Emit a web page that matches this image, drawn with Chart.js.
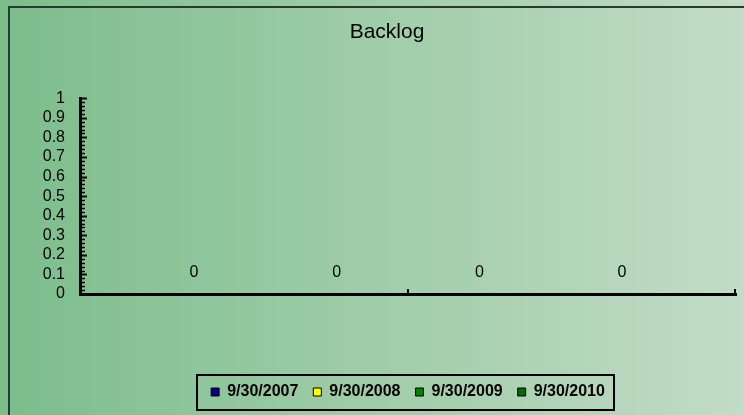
<!DOCTYPE html>
<html>
<head>
<meta charset="utf-8">
<title>Backlog</title>
<script src="https://cdn.jsdelivr.net/npm/chart.js@4/dist/chart.umd.min.js"></script>
<style>
  html, body { margin: 0; padding: 0; overflow: hidden; background: #9fcca8; }
  #wrap { width: 744px; height: 415px; position: relative; }
  canvas { display: block; }
</style>
</head>
<body>
<div id="wrap"><canvas id="chart" width="744" height="415"></canvas></div>
<script>
// Chart data
const categories = [''];
const seriesNames = ['9/30/2007', '9/30/2008', '9/30/2009', '9/30/2010'];
const series2007 = [0];
const series2008 = [0];
const series2009 = [0];
const series2010 = [0];
const seriesColors = ['#000080', '#ffff00', '#008000', '#006c00'];
const yMin = 0, yMax = 1, yMajorStep = 0.1, yMinorStep = 0.02;

const seriesValues = [series2007, series2008, series2009, series2010];

Chart.defaults.font.family = "'Liberation Sans', Arial, sans-serif";
Chart.defaults.color = '#000';

// Green gradient backdrop and the outer frame lines
const backdrop = {
  id: 'backdrop',
  beforeDraw(chart) {
    const { ctx, width, height } = chart;
    ctx.save();
    const g = ctx.createLinearGradient(0, 0, width, 0);
    g.addColorStop(0, 'rgb(124,189,139)');
    g.addColorStop(1, 'rgb(194,220,198)');
    ctx.fillStyle = g;
    ctx.fillRect(0, 0, width, height);
    ctx.strokeStyle = '#2b3a2e';
    ctx.lineWidth = 2;
    ctx.beginPath();
    ctx.moveTo(9, height);
    ctx.lineTo(9, 7);
    ctx.lineTo(width, 7);
    ctx.stroke();
    ctx.restore();
  }
};

// Inside tick marks on both axes (major + minor on the value axis)
const innerTicks = {
  id: 'innerTicks',
  afterDraw(chart) {
    const { ctx, chartArea } = chart;
    const ys = chart.scales.y, xs = chart.scales.x;
    ctx.save();
    ctx.strokeStyle = '#000';
    const n = Math.round((yMax - yMin) / yMinorStep);
    const majorEvery = Math.round(yMajorStep / yMinorStep);
    for (let i = 0; i <= n; i++) {
      const v = yMin + i * yMinorStep;
      const py = Math.round(ys.getPixelForValue(v)) + 0.5;
      const major = i % majorEvery === 0;
      ctx.lineWidth = major ? 2 : 1.5;
      ctx.beginPath();
      ctx.moveTo(chartArea.left, py);
      ctx.lineTo(chartArea.left + (major ? 7 : 5), py);
      ctx.stroke();
    }
    // category-axis tick marks at the category centre and the far end
    ctx.lineWidth = 2;
    const xt = [xs.getPixelForValue(0), chartArea.right - 1];
    xt.forEach(px => {
      ctx.beginPath();
      ctx.moveTo(px, chartArea.bottom);
      ctx.lineTo(px, chartArea.bottom - 5);
      ctx.stroke();
    });
    ctx.restore();
  }
};

// Value labels above each bar
const valueLabels = {
  id: 'valueLabels',
  afterDatasetsDraw(chart) {
    const { ctx } = chart;
    ctx.save();
    ctx.font = "16px 'Liberation Sans', Arial, sans-serif";
    ctx.fillStyle = '#000';
    ctx.textAlign = 'center';
    ctx.textBaseline = 'middle';
    chart.data.datasets.forEach((ds, i) => {
      const meta = chart.getDatasetMeta(i);
      meta.data.forEach((el, j) => {
        ctx.fillText(String(ds.data[j]), el.x, el.y - 21);
      });
    });
    ctx.restore();
  }
};

// Box around the legend items
const legendFrame = {
  id: 'legendFrame',
  afterDraw(chart) {
    const hb = chart.legend && chart.legend.legendHitBoxes;
    if (!hb || !hb.length) return;
    const { ctx } = chart;
    const l = Math.min(...hb.map(h => h.left)) - 14;
    const r = Math.max(...hb.map(h => h.left + h.width)) + 9;
    const t = Math.min(...hb.map(h => h.top)) - 9;
    const b = Math.max(...hb.map(h => h.top + h.height)) + 10;
    ctx.save();
    ctx.strokeStyle = '#000';
    ctx.lineWidth = 2;
    ctx.strokeRect(Math.round(l), Math.round(t), Math.round(r - l), Math.round(b - t));
    ctx.restore();
  }
};

new Chart(document.getElementById('chart'), {
  type: 'bar',
  data: {
    labels: categories,
    datasets: seriesNames.map((name, i) => ({
      label: name,
      data: seriesValues[i],
      backgroundColor: seriesColors[i],
      borderColor: '#000',
      borderWidth: 1,
      categoryPercentage: 0.87,
      barPercentage: 0.9
    }))
  },
  options: {
    responsive: false,
    animation: false,
    devicePixelRatio: 1,
    layout: { padding: { left: 38, right: 8, top: 0, bottom: 5 } },
    plugins: {
      title: {
        display: true,
        text: 'Backlog',
        color: '#000',
        font: { size: 21, weight: 'normal' },
        padding: { top: 20, bottom: 53 }
      },
      legend: {
        position: 'bottom',
        fullSize: false,
        labels: {
          boxWidth: 8,
          boxHeight: 8,
          padding: 15,
          color: '#000',
          font: { size: 16, weight: 'bold' }
        }
      },
      tooltip: { enabled: false }
    },
    scales: {
      x: {
        ticks: { display: false },
        grid: { display: false },
        border: { display: true, color: '#000', width: 3 },
        afterFit(s) { s.height = 75; }
      },
      y: {
        min: yMin,
        max: yMax,
        ticks: {
          stepSize: yMajorStep,
          autoSkip: false,
          padding: 15,
          color: '#000',
          font: { size: 16 },
          callback: v => String(+(+v).toFixed(1))
        },
        grid: { display: false, drawTicks: false },
        border: { display: true, color: '#000', width: 3 },
        afterFit(s) { s.width = 42; }
      }
    }
  },
  plugins: [backdrop, innerTicks, valueLabels, legendFrame]
});
</script>
</body>
</html>
